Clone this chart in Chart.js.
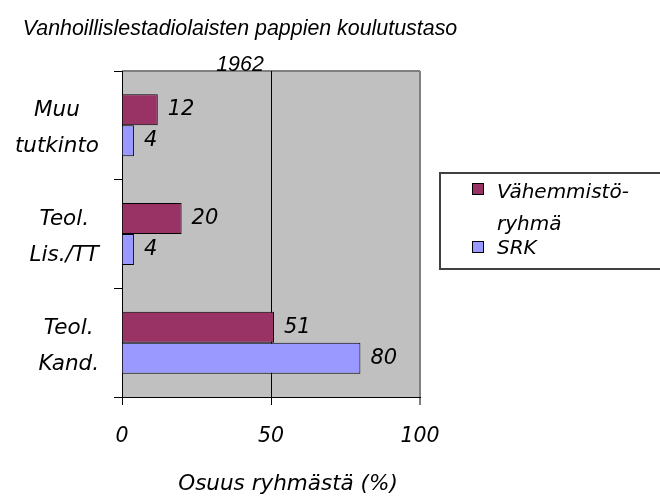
<!DOCTYPE html>
<html>
<head>
<meta charset="utf-8">
<script src="https://cdn.jsdelivr.net/npm/chart.js@4/dist/chart.umd.min.js"></script>
<style>
  body { margin: 0; background: #fff; }
  canvas { display: block; }
</style>
</head>
<body>
<canvas id="chart" width="660" height="499"></canvas>
<script>
// Chart data
var categories = [['Muu', 'tutkinto'], ['Teol.', 'Lis./TT'], ['Teol.', 'Kand.']];
var seriesNames = ['Vähemmistöryhmä', 'SRK'];
var legendLines = [['Vähemmistö-', 'ryhmä'], ['SRK']];
var minorityValues = [12, 20, 51];
var srkValues = [4, 4, 80];
var xTicks = [0, 50, 100];
var titleLines = ['Vanhoillislestadiolaisten pappien koulutustaso', '1962'];
var xTitle = 'Osuus ryhmästä (%)';

var FONT = '"DejaVu Sans"';
var TITLE_FONT = '"Liberation Sans"';
var colors = ['#993366', '#9999FF'];

function italic(size, family) {
    return 'italic ' + size + 'px ' + (family || FONT);
}

// plot background, titles, category labels, value labels and legend box
var decorations = {
    id: 'decorations',
    beforeDraw: function (chart) {
        var ctx = chart.ctx;
        var a = chart.chartArea;
        ctx.save();
        ctx.fillStyle = '#C0C0C0';
        ctx.fillRect(a.left, a.top, a.right - a.left, a.bottom - a.top);
        ctx.strokeStyle = '#808080';
        ctx.lineWidth = 2;
        ctx.beginPath();
        ctx.moveTo(a.left, a.top);
        ctx.lineTo(a.right, a.top);
        ctx.stroke();
        ctx.restore();
    },
    afterDraw: function (chart) {
        var ctx = chart.ctx;
        ctx.save();
        ctx.fillStyle = '#000';

        // chart title
        ctx.font = italic(21.4, TITLE_FONT);
        ctx.textAlign = 'center';
        ctx.textBaseline = 'alphabetic';
        ctx.fillText(titleLines[0], 240, 35);
        ctx.fillText(titleLines[1], 240, 71);

        // x axis title
        ctx.font = italic(21.5);
        ctx.fillText(xTitle, 288, 490);

        // category labels, block right aligned, lines centred
        var yScale = chart.scales.y;
        categories.forEach(function (lines, i) {
            var cy = yScale.getPixelForValue(i);
            var w = 0;
            lines.forEach(function (t) { w = Math.max(w, ctx.measureText(t).width); });
            var cx = 99 - w / 2;
            ctx.fillText(lines[0], cx, cy - 9);
            ctx.fillText(lines[1], cx, cy + 27);
        });

        // value labels
        ctx.font = italic(21);
        ctx.textAlign = 'left';
        ctx.textBaseline = 'middle';
        chart.data.datasets.forEach(function (ds, di) {
            chart.getDatasetMeta(di).data.forEach(function (bar, i) {
                ctx.fillText(String(ds.data[i]), bar.x + 10, bar.y);
            });
        });

        // legend
        ctx.strokeStyle = '#404040';
        ctx.lineWidth = 2;
        ctx.strokeRect(440, 173, 240, 96);
        ctx.textBaseline = 'alphabetic';
        ctx.font = italic(20);
        var boxY = [183, 241];
        var textY = [[198, 230], [254]];
        legendLines.forEach(function (lines, i) {
            ctx.fillStyle = colors[i];
            ctx.fillRect(472.5, boxY[i] + 0.5, 11, 11);
            ctx.strokeStyle = '#000';
            ctx.lineWidth = 1;
            ctx.strokeRect(472.5, boxY[i] + 0.5, 11, 11);
            ctx.fillStyle = '#000';
            lines.forEach(function (t, j) {
                ctx.fillText(t, 497, textY[i][j]);
            });
        });
        ctx.restore();
    }
};

new Chart(document.getElementById('chart'), {
    type: 'bar',
    data: {
        labels: categories,
        datasets: [{
            label: seriesNames[0],
            data: minorityValues,
            backgroundColor: colors[0],
            borderColor: '#000',
            borderWidth: 1
        }, {
            label: seriesNames[1],
            data: srkValues,
            backgroundColor: colors[1],
            borderColor: '#000',
            borderWidth: 1
        }]
    },
    options: {
        indexAxis: 'y',
        responsive: false,
        animation: false,
        layout: { padding: { top: 71, right: 240, bottom: 0, left: 0 } },
        datasets: { bar: { categoryPercentage: 0.57, barPercentage: 1 } },
        plugins: {
            legend: { display: false },
            title: { display: false },
            tooltip: { enabled: false }
        },
        scales: {
            x: {
                min: 0,
                max: 100,
                afterBuildTicks: function (scale) {
                    scale.ticks = xTicks.map(function (v) { return { value: v }; });
                },
                ticks: { color: '#000', padding: 19, font: { family: 'DejaVu Sans', size: 20.5, style: 'italic' } },
                grid: {
                    color: function (c) {
                        if (c.tick && c.tick.value === 50) return '#000';
                        if (c.tick && c.tick.value === 100) return '#808080';
                        return 'rgba(0,0,0,0)';
                    },
                    lineWidth: function (c) { return c.tick && c.tick.value === 100 ? 2 : 1; },
                    tickColor: '#000',
                    tickWidth: 1,
                    tickLength: 8
                },
                border: { color: '#000', width: 1 },
                afterFit: function (scale) { scale.height = 102; }
            },
            y: {
                ticks: { display: false },
                grid: { drawOnChartArea: false, color: '#000', tickLength: 8 },
                border: { color: '#000', width: 1 },
                afterFit: function (scale) { scale.width = 122; }
            }
        }
    },
    plugins: [decorations]
});
</script>
</body>
</html>
